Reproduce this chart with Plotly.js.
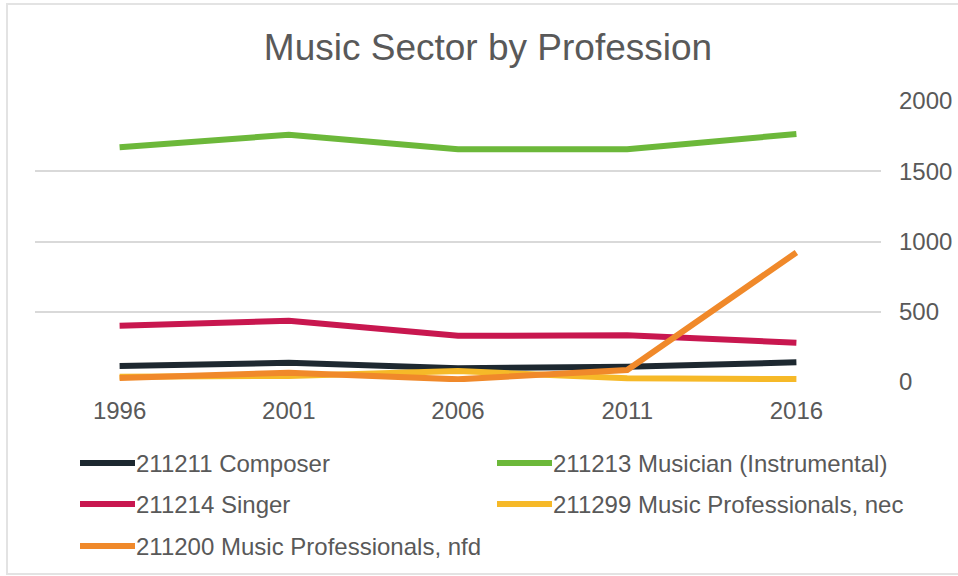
<!DOCTYPE html>
<html>
<head>
<meta charset="utf-8">
<script src="https://cdn.plot.ly/plotly-3.0.1.min.js"></script>
<style>html,body{margin:0;padding:0;background:#fff;}#chart{width:958px;height:576px;}</style>
</head>
<body>
<div id="chart"></div>
<script>
const years = ['1996', '2001', '2006', '2011', '2016'];
const seriesNames = ['211211 Composer', '211213 Musician (Instrumental)', '211214 Singer', '211299 Music Professionals, nec', '211200 Music Professionals, nfd'];
const composer = [114, 137, 97, 109, 140];
const musician = [1670, 1760, 1657, 1657, 1765];
const singer = [400, 436, 329, 332, 280];
const nec = [38, 43, 78, 26, 21];
const nfd = [28, 66, 19, 85, 922];
const colors = ['#1d2830', '#6cb83a', '#c8174f', '#f6b928', '#f0892a'];
const yTicks = [0, 500, 1000, 1500, 2000];

const allValues = [composer, musician, singer, nec, nfd];
const W = 958, H = 576, L = 35, R = 77, T = 101, B = 194;
const PW = W - L - R, PH = H - T - B;
const px = x => (x - L) / PW;
const py = y => (H - B - y) / PH;
const FONT = 'Liberation Sans, Arial, sans-serif';

const traces = allValues.map((vals, i) => ({
  x: years, y: vals, type: 'scatter', mode: 'lines', name: seriesNames[i],
  line: {color: colors[i], width: 6}, showlegend: false
}));

// Manual legend (two columns, three rows)
const legPos = [[80, 463], [497, 463], [80, 504], [497, 504], [80, 546]];
const shapes = [];
const annotations = [];
legPos.forEach((p, i) => {
  shapes.push({type: 'line', xref: 'paper', yref: 'paper', x0: px(p[0]), x1: px(p[0] + 55), y0: py(p[1]), y1: py(p[1]),
    line: {color: colors[i], width: 6}});
  annotations.push({xref: 'paper', yref: 'paper', x: px(p[0] + 54), y: py(p[1]), xanchor: 'left', yanchor: 'middle',
    text: seriesNames[i], showarrow: false, font: {size: 24, color: '#595959', family: FONT}});
});
// frame
shapes.push({type: 'rect', xref: 'paper', yref: 'paper', x0: px(7), x1: px(970), y0: py(4), y1: py(574),
  line: {color: '#e3e3e3', width: 2}, layer: 'below'});

const layout = {
  width: W, height: H,
  margin: {l: L, r: R, t: T, b: B},
  paper_bgcolor: '#fff', plot_bgcolor: '#fff',
  font: {family: FONT, color: '#595959'},
  title: {text: 'Music Sector by Profession', font: {size: 37, color: '#595959', family: FONT},
    xref: 'container', x: 488 / W, xanchor: 'center', yref: 'container', y: 1 - 47 / H, yanchor: 'middle'},
  xaxis: {type: 'category', range: [-0.5, 4.5], showgrid: false, zeroline: false, showline: false,
    tickfont: {size: 24, color: '#595959', family: FONT}, ticks: '', ticklabelstandoff: 12, fixedrange: true},
  yaxis: {side: 'right', range: [0, 2000], tickvals: yTicks, showgrid: true, gridcolor: '#d9d9d9', gridwidth: 2,
    zeroline: false, showline: false, ticks: '', ticklabelstandoff: 17,
    tickfont: {size: 24, color: '#595959', family: FONT}, fixedrange: true},
  shapes: shapes,
  annotations: annotations,
  showlegend: false
};

Plotly.newPlot('chart', traces, layout, {displayModeBar: false, staticPlot: true});
</script>
</body>
</html>
